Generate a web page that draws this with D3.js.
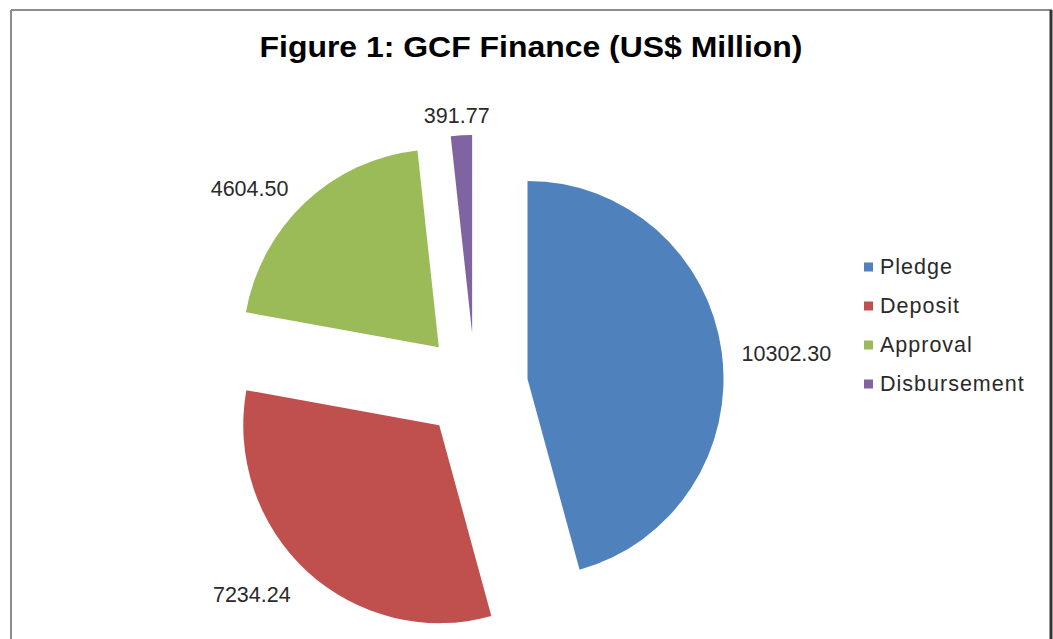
<!DOCTYPE html>
<html><head><meta charset="utf-8">
<script src="https://cdn.jsdelivr.net/npm/d3@7"></script>
<style>body{margin:0;background:#fff}svg{display:block}</style>
</head><body>
<svg id="c" width="1053" height="639"></svg>
<script>
const categories = ["Pledge", "Deposit", "Approval", "Disbursement"];
const values = [10302.30, 7234.24, 4604.50, 391.77];
const labels = ["10302.30", "7234.24", "4604.50", "391.77"];
const colors = ["#4F81BD", "#C0504D", "#9BBB59", "#8064A2"];
const title = "Figure 1: GCF Finance (US$ Million)";

const svg = d3.select("#c");
const W = 1053, H = 639;

// frame
svg.append("line").attr("x1", 11).attr("y1", 10).attr("x2", 1052).attr("y2", 10).attr("stroke", "#8c8c8c").attr("stroke-width", 2);
svg.append("line").attr("x1", 11).attr("y1", 10).attr("x2", 11).attr("y2", H).attr("stroke", "#8c8c8c").attr("stroke-width", 2);
svg.append("line").attr("x1", 1051).attr("y1", 10).attr("x2", 1051).attr("y2", H).attr("stroke", "#333").attr("stroke-width", 3);

svg.append("text").attr("x", 531).attr("y", 57).attr("text-anchor", "middle")
  .attr("font-family", "Liberation Sans, Arial, sans-serif").attr("font-weight", "bold")
  .attr("font-size", 30).attr("textLength", 543).attr("lengthAdjust", "spacingAndGlyphs")
  .attr("fill", "#000").text(title);

const cx = 475, cy = 386, rx = 196, ry = 198, explode = 53, gap = 20;
const pie = d3.pie().sort(null).value(d => d)(values);
const arc = d3.arc().innerRadius(0).outerRadius(rx);
const g = svg.append("g").attr("transform", `translate(${cx},${cy})`);

pie.forEach((p, i) => {
  const mid = (p.startAngle + p.endAngle) / 2;
  const dx = Math.sin(mid), dy = -Math.cos(mid);
  const ox = dx * explode, oy = dy * explode;
  g.append("path").attr("d", arc(p)).attr("fill", colors[i])
    .attr("transform", `translate(${ox},${oy}) scale(1,${ry / rx})`);
  const t = g.append("text").attr("font-family", "Liberation Sans, Arial, sans-serif")
    .attr("font-size", 21.5).attr("fill", "#2a2a2a").attr("text-anchor", "middle")
    .attr("dominant-baseline", "central").text(labels[i]);
  const bb = t.node().getBBox();
  const px = ox + dx * (rx + gap), py = oy + dy * (ry + gap);
  const sx = Math.max(-1, Math.min(1, dx * 2)), sy = Math.max(-1, Math.min(1, dy * 2));
  t.attr("x", px + sx * (bb.width / 2 + (sx < -0.5 ? 3 : 0))).attr("y", py + sy * 4 + 5);
});

// legend
const lg = svg.append("g").attr("transform", "translate(864,267)");
categories.forEach((c, i) => {
  const y = i * 39;
  lg.append("rect").attr("x", 0).attr("y", y - 4.5).attr("width", 9).attr("height", 9).attr("fill", colors[i]);
  lg.append("text").attr("x", 16).attr("y", y).attr("dominant-baseline", "central")
    .attr("font-family", "Liberation Sans, Arial, sans-serif").attr("font-size", 21.5)
    .attr("letter-spacing", 1).attr("fill", "#2a2a2a").text(c);
});
</script>
</body></html>
